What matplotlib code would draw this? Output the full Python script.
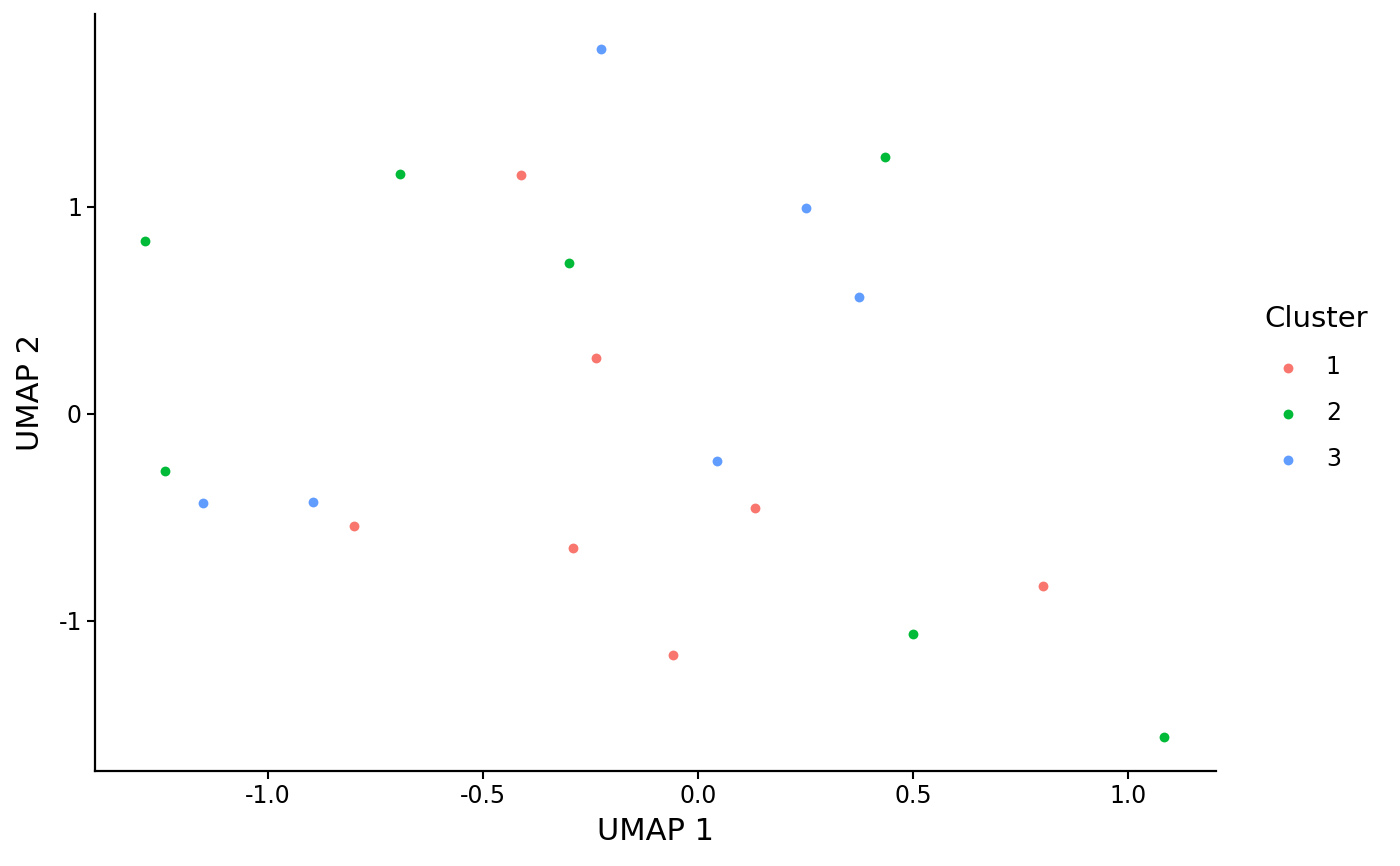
import matplotlib.pyplot as plt

plt.rcParams['axes.unicode_minus'] = False
plt.rcParams['font.family'] = 'DejaVu Sans'

# UMAP coordinates, per cluster
c1_x = [-0.412, -0.237, -0.800, -0.291, 0.133, -0.058, 0.802]
c1_y = [1.155, 0.271, -0.541, -0.647, -0.454, -1.164, -0.831]
c2_x = [-1.286, -0.693, -0.300, 0.435, -1.240, 0.500, 1.084]
c2_y = [0.836, 1.159, 0.729, 1.242, -0.275, -1.063, -1.560]
c3_x = [-0.226, 0.251, 0.374, 0.044, -1.151, -0.895]
c3_y = [1.763, 0.995, 0.565, -0.227, -0.430, -0.425]

clusters = ['1', '2', '3']
colors = ['#F8766D', '#00BA38', '#619CFF']

fig = plt.figure(figsize=(14, 8.66), dpi=100)
ax = fig.add_axes([0.0679, 0.1097, 0.8007, 0.8741])

for xs, ys, lab, col in zip([c1_x, c2_x, c3_x], [c1_y, c2_y, c3_y], clusters, colors):
    ax.scatter(xs, ys, s=50, color=col, label=lab, linewidths=0, zorder=3)

ax.set_xlim(-1.402, 1.205)
ax.set_ylim(-1.725, 1.932)
ax.set_xticks([-1.0, -0.5, 0.0, 0.5, 1.0])
ax.set_xticklabels(['-1.0', '-0.5', '0.0', '0.5', '1.0'])
ax.set_yticks([-1, 0, 1])
ax.set_yticklabels(['-1', '0', '1'])

for side in ['top', 'right']:
    ax.spines[side].set_visible(False)
for side in ['left', 'bottom']:
    ax.spines[side].set_linewidth(1.6)
ax.tick_params(labelsize=17, width=1.5, length=5.5, color='black', pad=4)

ax.set_xlabel('UMAP 1', fontsize=22, labelpad=6)
ax.set_ylabel('UMAP 2', fontsize=22, labelpad=10)

leg = fig.legend(loc='upper left', bbox_to_anchor=(0.888, 0.672), frameon=False,
                 title='Cluster', fontsize=17, title_fontsize=21,
                 handletextpad=0.6, labelspacing=0.93, markerscale=1.0)
leg._legend_box.align = 'left'

fig.savefig('out.png', dpi=100)
